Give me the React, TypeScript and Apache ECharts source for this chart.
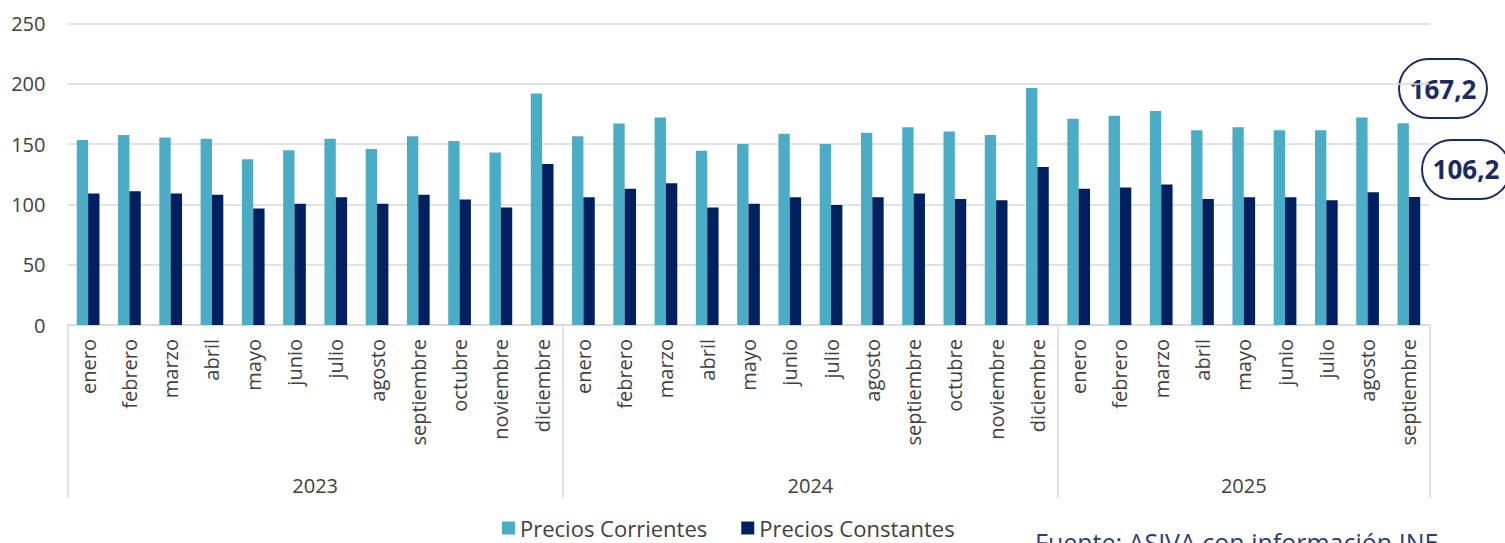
import React, { useEffect, useRef } from "react";
import * as echarts from "echarts";

const months2023 = ["enero", "febrero", "marzo", "abril", "mayo", "junio", "julio", "agosto", "septiembre", "octubre", "noviembre", "diciembre"];
const months2024 = ["enero", "febrero", "marzo", "abril", "mayo", "junio", "julio", "agosto", "septiembre", "octubre", "noviembre", "diciembre"];
const months2025 = ["enero", "febrero", "marzo", "abril", "mayo", "junio", "julio", "agosto", "septiembre"];
const years = ["2023", "2024", "2025"];

const corrientes2023 = [153.5, 157.5, 155.5, 154.5, 137.5, 145, 154.5, 146, 156.5, 152.5, 143, 192];
const corrientes2024 = [156.5, 167, 172, 144.5, 150, 158.5, 150, 159.5, 164, 160.5, 157.5, 196.5];
const corrientes2025 = [171, 173.5, 177.5, 161.5, 164, 161.5, 161.5, 172, 167.2];

const constantes2023 = [109, 111, 109, 108, 96.5, 100.5, 106, 100.5, 108, 104, 97.5, 133.5];
const constantes2024 = [106, 113, 117.5, 97.5, 100.5, 106, 99.5, 106, 109, 104.5, 103.5, 131];
const constantes2025 = [113, 114, 116.5, 104.5, 106, 106, 103.5, 110, 106.2];

const yTicks = [0, 50, 100, 150, 200, 250];
const seriesNames = ["Precios Corrientes", "Precios Constantes"];
const calloutLabels = ["167,2", "106,2"];
const sourceText = "Fuente: ASIVA con información INE";

export default function App() {
  const ref = useRef<HTMLDivElement>(null);

  useEffect(() => {
    if (!ref.current) return;
    const chart = echarts.init(ref.current, undefined, { renderer: "svg" });

    const months = [...months2023, ...months2024, ...months2025];
    const corrientes = [...corrientes2023, ...corrientes2024, ...corrientes2025];
    const constantes = [...constantes2023, ...constantes2024, ...constantes2025];
    const groupSizes = [months2023.length, months2024.length, months2025.length];
    const bounds: number[] = [0];
    groupSizes.forEach((n) => bounds.push(bounds[bounds.length - 1] + n));
    const centers = groupSizes.map((n, i) => bounds[i] + n / 2);
    const total = months.length;

    const font = "'Open Sans', sans-serif";
    const gray = "#404040";
    const gridColor = "#d9d9d9";
    const navy = "#1b2a63";

    chart.setOption({
      animation: false,
      backgroundColor: "#ffffff",
      grid: { left: 67.5, right: 75.5, top: 23.5, bottom: 218, containLabel: false },
      legend: {
        left: 497,
        top: 512,
        itemWidth: 13,
        itemHeight: 13,
        itemGap: 34,
        icon: "rect",
        textStyle: { fontFamily: font, fontSize: 22, color: gray },
        data: seriesNames,
      },
      xAxis: [
        {
          type: "category",
          data: months,
          position: "bottom",
          axisLine: { show: true, lineStyle: { color: gridColor, width: 1.5 } },
          axisTick: { show: false },
          axisLabel: {
            interval: 0,
            rotate: 90,
            margin: 14,
            fontFamily: font,
            fontSize: 20,
            color: gray,
          },
          splitLine: { show: false },
        },
        {
          type: "value",
          min: 0,
          max: total,
          position: "bottom",
          axisLine: { show: false },
          splitLine: { show: false },
          axisTick: {
            show: true,
            customValues: bounds,
            length: 173,
            lineStyle: { color: gridColor, width: 1.5 },
          },
          axisLabel: {
            show: true,
            customValues: centers,
            margin: 150,
            fontFamily: font,
            fontSize: 20,
            color: gray,
            formatter: (v: number) => {
              const idx = centers.findIndex((c) => Math.abs(c - v) < 1e-6);
              return idx >= 0 ? years[idx] : "";
            },
          },
        },
      ],
      yAxis: {
        type: "value",
        min: yTicks[0],
        max: yTicks[yTicks.length - 1],
        interval: 50,
        axisLine: { show: false },
        axisTick: { show: false },
        axisLabel: { margin: 22, fontFamily: font, fontSize: 20, color: gray },
        splitLine: { lineStyle: { color: gridColor, width: 1.5 } },
      },
      series: [
        {
          name: seriesNames[0],
          type: "bar",
          xAxisIndex: 0,
          data: corrientes,
          itemStyle: { color: "#4bacc6" },
          barGap: "0%",
          barCategoryGap: "45%",
        },
        {
          name: seriesNames[1],
          type: "bar",
          xAxisIndex: 0,
          data: constantes,
          itemStyle: { color: "#002060" },
          barGap: "0%",
          barCategoryGap: "45%",
        },
      ],
      graphic: [
        {
          type: "rect",
          shape: { x: 1399, y: 59, width: 88, height: 59, r: 29.5 },
          style: { fill: "#ffffff", stroke: navy, lineWidth: 2 },
        },
        {
          type: "text",
          x: 1443,
          y: 89,
          style: {
            text: calloutLabels[0],
            fontFamily: font,
            fontWeight: "bold",
            fontSize: 26,
            fill: navy,
            align: "center",
            verticalAlign: "middle",
          },
        },
        {
          type: "rect",
          shape: { x: 1422, y: 140, width: 88, height: 59, r: 29.5 },
          style: { fill: "#ffffff", stroke: navy, lineWidth: 2 },
        },
        {
          type: "text",
          x: 1466,
          y: 169,
          style: {
            text: calloutLabels[1],
            fontFamily: font,
            fontWeight: "bold",
            fontSize: 26,
            fill: navy,
            align: "center",
            verticalAlign: "middle",
          },
        },
        {
          type: "text",
          x: 1035,
          y: 529,
          style: {
            text: sourceText,
            fontFamily: font,
            fontSize: 25,
            fill: "#2e3d7a",
            align: "left",
            verticalAlign: "top",
          },
        },
      ],
    });

    return () => chart.dispose();
  }, []);

  return (
    <div
      ref={ref}
      style={{ position: "fixed", left: 0, top: 0, width: 1505, height: 543 }}
    />
  );
}
